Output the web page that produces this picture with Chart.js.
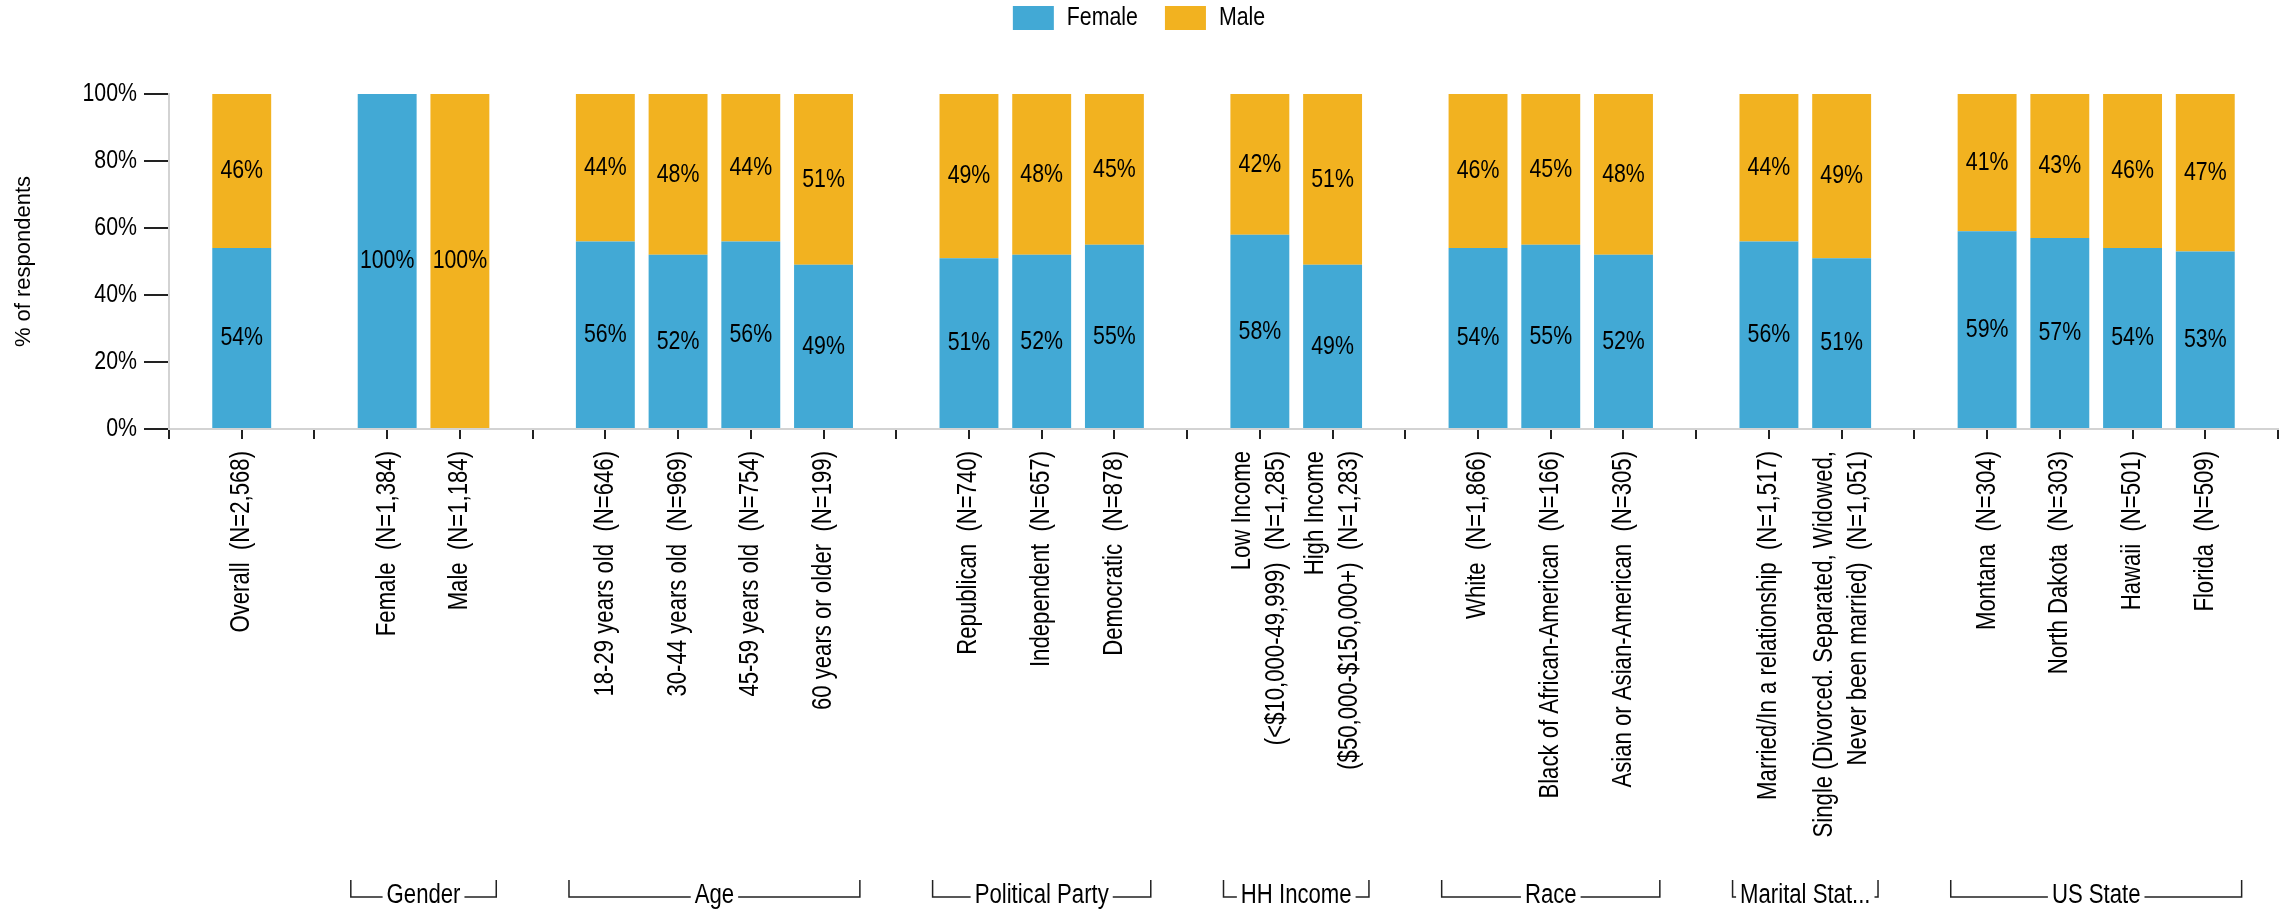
<!DOCTYPE html>
<html><head><meta charset="utf-8">
<script src="https://cdn.jsdelivr.net/npm/chart.js@4.4.1/dist/chart.umd.min.js"></script>
<style>html,body{margin:0;padding:0;background:#fff;} canvas{display:block;}</style>
</head><body>
<canvas id="c" width="2285" height="909"></canvas>
<script>
const categories = [
  '', 'Overall  (N=2,568)', '',
  'Female  (N=1,384)', 'Male  (N=1,184)', '',
  '18-29 years old  (N=646)', '30-44 years old  (N=969)', '45-59 years old  (N=754)', '60 years or older  (N=199)', '',
  'Republican  (N=740)', 'Independent  (N=657)', 'Democratic  (N=878)', '',
  ['Low Income', '(<$10,000-49,999)  (N=1,285)'], ['High Income', '($50,000-$150,000+)  (N=1,283)'], '',
  'White  (N=1,866)', 'Black of African-American  (N=166)', 'Asian or Asian-American  (N=305)', '',
  'Married/In a relationship  (N=1,517)', ['Single (Divorced. Separated, Widowed,', 'Never been married)  (N=1,051)'], '',
  'Montana  (N=304)', 'North Dakota  (N=303)', 'Hawaii  (N=501)', 'Florida  (N=509)', ''
];
const femaleShare = [null, 54, null, 100, 0, null, 56, 52, 56, 49, null, 51, 52, 55, null, 58, 49, null, 54, 55, 52, null, 56, 51, null, 59, 57, 54, 53, null];
const maleShare   = [null, 46, null, 0, 100, null, 44, 48, 44, 51, null, 49, 48, 45, null, 42, 51, null, 46, 45, 48, null, 44, 49, null, 41, 43, 46, 47, null];
const seriesNames = ['Female', 'Male'];
const yTicks = [0, 20, 40, 60, 80, 100];
const groupNames = ['Gender', 'Age', 'Political Party', 'HH Income', 'Race', 'Marital Status', 'US State'];
const groupFirst = [3, 6, 11, 15, 18, 22, 25];
const groupLast  = [4, 9, 13, 16, 20, 23, 28];

const REG = '"Liberation Sans",Arial,sans-serif';
const NARROW = '"Liberation Sans Narrow","Liberation Sans",Arial,sans-serif';
const NARROW_SCALE = 0.82;
const BLUE = '#42A9D5', ORANGE = '#F2B220';

const canvas = document.getElementById('c');
const ctx2d = canvas.getContext('2d');
(function installNarrowShim(ctx) {
  const proto = CanvasRenderingContext2D.prototype;
  const origFill = proto.fillText, origMeasure = proto.measureText;
  const isNarrow = c => c.font.indexOf('Narrow') >= 0;
  ctx.fillText = function (t, x, y, mw) {
    if (!isNarrow(this)) return mw === undefined ? origFill.call(this, t, x, y) : origFill.call(this, t, x, y, mw);
    this.save();
    this.translate(x, y);
    this.scale(NARROW_SCALE, 1);
    origFill.call(this, t, 0, 0);
    this.restore();
  };
  ctx.measureText = function (t) {
    const m = origMeasure.call(this, t);
    if (!isNarrow(this)) return m;
    return {
      width: m.width * NARROW_SCALE,
      actualBoundingBoxLeft: m.actualBoundingBoxLeft * NARROW_SCALE,
      actualBoundingBoxRight: m.actualBoundingBoxRight * NARROW_SCALE,
      actualBoundingBoxAscent: m.actualBoundingBoxAscent,
      actualBoundingBoxDescent: m.actualBoundingBoxDescent,
      fontBoundingBoxAscent: m.fontBoundingBoxAscent,
      fontBoundingBoxDescent: m.fontBoundingBoxDescent
    };
  };
})(ctx2d);

const centerMultiline = {
  id: 'centerMultiline',
  beforeDraw(chart) {
    chart.scales.x.getLabelItems().forEach(it => {
      if (Array.isArray(it.label) && !it._c) {
        it.options.translation[0] -= (it.label.length - 1) * it.font.lineHeight / 2;
        it._c = true;
      }
    });
  }
};

const valueLabels = {
  id: 'valueLabels',
  afterDatasetsDraw(chart) {
    const ctx = chart.ctx;
    ctx.save();
    ctx.font = '26px ' + NARROW;
    ctx.fillStyle = '#000';
    ctx.textAlign = 'center';
    ctx.textBaseline = 'middle';
    chart.data.datasets.forEach((ds, di) => {
      chart.getDatasetMeta(di).data.forEach((bar, i) => {
        const v = ds.data[i];
        if (v == null || v <= 0) return;
        ctx.fillText(Math.round(v) + '%', bar.x, (bar.y + bar.base) / 2);
      });
    });
    ctx.restore();
  }
};

const groupBrackets = {
  id: 'groupBrackets',
  afterDraw(chart) {
    const xs = chart.scales.x, ctx = chart.ctx;
    const step = xs.getPixelForValue(1) - xs.getPixelForValue(0);
    const yLine = chart.height - 12, yTop = yLine - 17;
    ctx.save();
    ctx.font = '27px ' + NARROW;
    ctx.strokeStyle = '#222';
    ctx.lineWidth = 1.5;
    const mw = t => ctx.measureText(t).width;
    groupNames.forEach((name, g) => {
      const x0 = xs.getPixelForValue(groupFirst[g]) - step / 2;
      const x1 = xs.getPixelForValue(groupLast[g]) + step / 2;
      ctx.beginPath();
      ctx.moveTo(x0, yTop); ctx.lineTo(x0, yLine); ctx.lineTo(x1, yLine); ctx.lineTo(x1, yTop);
      ctx.stroke();
      let text = name;
      const maxW = x1 - x0 - 12;
      if (mw(text) > maxW) {
        while (text.length > 1 && mw(text + '...') > maxW) text = text.slice(0, -1);
        text += '...';
      }
      const w = mw(text);
      const cx = (x0 + x1) / 2;
      ctx.fillStyle = '#fff';
      ctx.fillRect(cx - w / 2 - 4, yLine - 4, w + 8, 8);
      ctx.fillStyle = '#000';
      ctx.textAlign = 'center';
      ctx.textBaseline = 'alphabetic';
      ctx.fillText(text, cx, chart.height - 6);
    });
    ctx.restore();
  }
};

new Chart(canvas, {
  type: 'bar',
  data: {
    labels: categories,
    datasets: [
      {label: seriesNames[0], data: femaleShare, backgroundColor: BLUE, categoryPercentage: 0.81, barPercentage: 1},
      {label: seriesNames[1], data: maleShare, backgroundColor: ORANGE, categoryPercentage: 0.81, barPercentage: 1}
    ]
  },
  options: {
    responsive: false,
    animation: false,
    layout: {padding: {top: -22, right: 7, left: 0, bottom: 0}},
    plugins: {
      legend: {
        position: 'top',
        labels: {font: {family: NARROW, size: 26}, color: '#000', boxWidth: 41, boxHeight: 24, padding: 27}
      },
      title: {display: true, text: '', weight: 0, padding: {top: 43, bottom: 0}, font: {size: 10, lineHeight: 1}},
      tooltip: {enabled: false}
    },
    scales: {
      x: {
        stacked: true,
        offset: false,
        grid: {offset: false, drawOnChartArea: false, tickLength: 10, tickColor: '#222', lineWidth: 2},
        border: {color: '#d3d3d3', width: 2},
        ticks: {autoSkip: false, maxRotation: 90, minRotation: 90, padding: 12, color: '#000',
                font: {family: NARROW, size: 27, lineHeight: 1.26}},
        afterFit(s) { s.height = 480; s.paddingLeft = 0; s.paddingRight = 0; }
      },
      y: {
        stacked: true,
        min: 0, max: 100,
        afterBuildTicks(s) { s.ticks = yTicks.map(v => ({value: v})); },
        ticks: {callback: v => v + '%', padding: 7, color: '#000', font: {family: NARROW, size: 26}},
        grid: {drawOnChartArea: false, tickLength: 25, tickColor: '#222', lineWidth: 2},
        border: {color: '#d3d3d3', width: 2},
        title: {display: true, text: '% of respondents', color: '#000', font: {family: REG, size: 22}, padding: {top: 11, bottom: 0}},
        afterFit(s) { s.width = 169; }
      }
    }
  },
  plugins: [centerMultiline, valueLabels, groupBrackets]
});
</script>
</body></html>
